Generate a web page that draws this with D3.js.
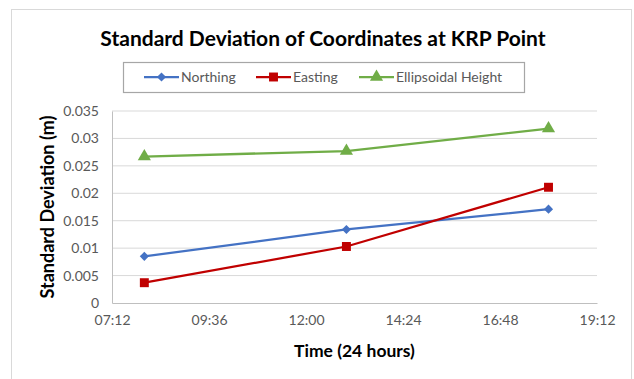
<!DOCTYPE html>
<html><head><meta charset="utf-8">
<script src="https://cdn.jsdelivr.net/npm/d3@7"></script>
<style>body{margin:0;background:#fff;}text{font-family:Lato,"Open Sans",sans-serif;}</style>
</head><body><svg id="c" width="634" height="379"></svg>
<script>
const times = ["08:00", "13:00", "18:00"];
const northing = [0.0085, 0.0134, 0.0171];
const easting = [0.0037, 0.0103, 0.0211];
const height = [0.0267, 0.0277, 0.0318];
const xTickLabels = ["07:12", "09:36", "12:00", "14:24", "16:48", "19:12"];
const yTicks = [0, 0.005, 0.01, 0.015, 0.02, 0.025, 0.03, 0.035];
const seriesNames = ["Northing", "Easting", "Ellipsoidal Height"];

const toDay = s => { const [h, m] = s.split(":").map(Number); return (h * 60 + m) / 1440; };
const svg = d3.select("#c");
svg.append("rect").attr("x", 11.5).attr("y", 9.5).attr("width", 620).attr("height", 380)
  .attr("fill", "#fff").attr("stroke", "#d9d9d9");

const L = 112, R = 597, T = 111, B = 303;
const x = d3.scaleLinear().domain([toDay("07:12"), toDay("19:12")]).range([L, R]);
const y = d3.scaleLinear().domain([0, 0.035]).range([B, T]);

svg.append("g").selectAll("line").data(yTicks.slice(1)).join("line")
  .attr("x1", L).attr("x2", R).attr("y1", d => y(d)).attr("y2", d => y(d))
  .attr("stroke", "#d9d9d9").attr("stroke-width", 1);

const yAxis = d3.axisLeft(y).tickValues(yTicks).tickSize(0).tickPadding(13).tickFormat(d => d3.format("")(+d.toFixed(3)));
const gy = svg.append("g").attr("transform", `translate(${L},0)`).call(yAxis);
gy.select(".domain").attr("stroke", "#bfbfbf");
gy.selectAll("text").attr("fill", "#595959").style("font-size", "14px");

const xAxis = d3.axisBottom(x).tickValues(xTickLabels.map(toDay)).tickSize(0).tickPadding(12)
  .tickFormat((d, i) => xTickLabels[i]);
const gx = svg.append("g").attr("transform", `translate(0,${B})`).call(xAxis);
gx.select(".domain").attr("stroke", "#bfbfbf");
gx.selectAll("text").attr("fill", "#595959").style("font-size", "14px");

svg.append("text").attr("x", 323).attr("y", 46).attr("text-anchor", "middle")
  .style("font-size", "21px").style("font-weight", "bold").attr("fill", "#000")
  .text("Standard Deviation of Coordinates at KRP Point");
svg.append("text").attr("x", (L + R) / 2).attr("y", 357).attr("text-anchor", "middle")
  .style("font-size", "17.5px").style("font-weight", "bold").text("Time (24 hours)");
svg.append("text").attr("transform", `translate(54,${(T + B) / 2}) rotate(-90)`).attr("text-anchor", "middle")
  .style("font-size", "18px").style("font-weight", "bold").text("Standard Deviation (m)");

const colors = ["#4472C4", "#C00000", "#70AD47"];
const symbols = [d3.symbolSquare, d3.symbolSquare, d3.symbolTriangle];
const sizes = [42, 80, 75];
const rot = [" rotate(45)", "", ""];
const data = [northing, easting, height];
const line = d3.line().x((d, i) => x(toDay(times[i]))).y(d => y(d));

data.forEach((vals, k) => {
  svg.append("path").datum(vals).attr("d", line).attr("fill", "none")
    .attr("stroke", colors[k]).attr("stroke-width", 2.25);
  svg.append("g").selectAll("path").data(vals).join("path")
    .attr("transform", (d, i) => `translate(${x(toDay(times[i]))},${y(d)})${rot[k]}`)
    .attr("d", d3.symbol().type(symbols[k]).size(sizes[k])).attr("fill", colors[k]);
});

svg.append("rect").attr("x", 123.5).attr("y", 62.5).attr("width", 401).attr("height", 30)
  .attr("fill", "#fff").attr("stroke", "#a6a6a6").attr("stroke-width", 1.2);
const legX = [144, 256, 359];
seriesNames.forEach((n, k) => {
  const g = svg.append("g").attr("transform", `translate(${legX[k]},77)`);
  g.append("line").attr("x1", 0).attr("x2", 35).attr("stroke", colors[k]).attr("stroke-width", 2.25);
  g.append("path").attr("transform", `translate(17.5,0)${rot[k]}`)
    .attr("d", d3.symbol().type(symbols[k]).size(sizes[k])).attr("fill", colors[k]);
  g.append("text").attr("x", 37).attr("y", 5).style("font-size", "14px").attr("fill", "#595959").text(n);
});
</script></body></html>
